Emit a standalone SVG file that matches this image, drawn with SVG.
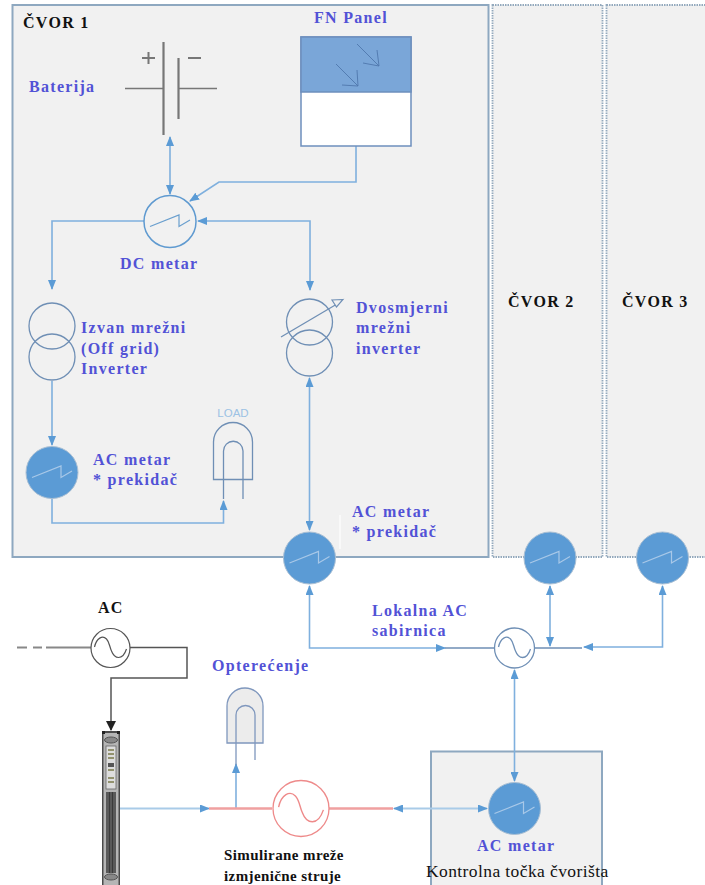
<svg xmlns="http://www.w3.org/2000/svg" width="705" height="885" viewBox="0 0 705 885">
<style>
text{font-family:"Liberation Serif","Times New Roman",serif;font-size:16px;font-weight:bold;fill:#5252d6;letter-spacing:1.3px}
.k{fill:#111}
.s{fill:#111;font-size:15px;letter-spacing:.4px}
.c{fill:none;stroke:#7fb0de;stroke-width:1.6}
.m{fill:#5b9bd5;stroke:#a9bfd4;stroke-width:1}
.z{fill:none;stroke:#a8c8e8;stroke-width:1.2}
.t{fill:none;stroke:#6f8fb5;stroke-width:1.3}
</style>
<defs>
<marker id="a" markerWidth="10" markerHeight="8" refX="9" refY="4" orient="auto-start-reverse" markerUnits="userSpaceOnUse"><path d="M0 0L10 4L0 8Z" fill="#5b9bd5"/></marker>
<marker id="b" markerWidth="10" markerHeight="10" refX="9" refY="5" orient="auto" markerUnits="userSpaceOnUse"><path d="M0 0L10 5L0 10Z" fill="#222"/></marker>
<path id="zz" d="M-20 5L9 -6.500V5L20 -1.500"/>
<path id="sine" d="M-16 -1C-14 -10 -8 -13 -4 -9C-1 -6 -1 -1 1 3C4 11 12 13 16 1"/>
</defs>

<g id="cvor1"><rect x="12.500" y="5" width="476" height="552" fill="#f1f1f1" stroke="#8ea8c0" stroke-width="2"/><text class="k" x="23" y="28">ČVOR 1</text></g>
<g id="cvor2"><rect x="492.500" y="5" width="110" height="552" fill="#f1f1f1" stroke="#93a9bd" stroke-width="1.800" stroke-dasharray="1.500 1"/><text class="k" x="508" y="307">ČVOR 2</text></g>
<g id="cvor3"><rect x="606.500" y="5" width="110" height="552" fill="#f1f1f1" stroke="#93a9bd" stroke-width="1.800" stroke-dasharray="1.500 1"/><text class="k" x="622" y="307">ČVOR 3</text></g>
<g id="kontrolna"><rect x="431" y="751.500" width="171" height="140" fill="#f1f1f1" stroke="#8ea8c0" stroke-width="2"/></g>

<g id="connectors">
<path class="c" d="M170 137V194" marker-start="url(#a)" marker-end="url(#a)"/>
<path class="c" d="M356 146V182H219L190 201" marker-end="url(#a)"/>
<path class="c" d="M144 221H52V289" marker-end="url(#a)"/>
<path class="c" d="M310 290V221H198" marker-start="url(#a)" marker-end="url(#a)"/>
<path class="c" d="M52 381V445" marker-end="url(#a)"/>
<path class="c" d="M52 498V523H223.500V501" marker-end="url(#a)"/>
<path class="c" d="M309.500 378V530" marker-start="url(#a)" marker-end="url(#a)"/>
<path class="c" d="M309.500 586V648H445" marker-start="url(#a)" marker-end="url(#a)"/>
<path d="M445 648H494M534 648H582" fill="none" stroke="#6f8fb5" stroke-width="1.500"/>
<path class="c" d="M550 586V646" marker-start="url(#a)" marker-end="url(#a)"/>
<path class="c" d="M662.500 586V647H584" marker-start="url(#a)" marker-end="url(#a)"/>
<path class="c" d="M514.500 670V781" marker-start="url(#a)" marker-end="url(#a)"/>
<path class="c" d="M394 808.500H487" marker-start="url(#a)" marker-end="url(#a)" style="stroke:#a9cbe8;stroke-width:2"/>
<path class="c" d="M120 808.500H209" marker-end="url(#a)" style="stroke:#a9cbe8;stroke-width:2"/>
<path class="c" d="M236 808V764" marker-end="url(#a)"/>
<path d="M209 808.500H272M329 808.500H393" fill="none" stroke="#f0a0a0" stroke-width="2.500"/>
<path d="M17 647.500H27M33 647.500H42M46 647.500H91" fill="none" stroke="#888" stroke-width="1.800"/>
<path d="M130 647.500H187V678H111V730" fill="none" stroke="#555" stroke-width="1.500" marker-end="url(#b)"/>
</g>

<g id="baterija">
<path d="M125 88.500H163M179 88.500H217" stroke="#777" stroke-width="1.500" fill="none"/>
<path d="M163.500 42V135M178.500 58V119" stroke="#777" stroke-width="2.200" fill="none"/>
<path d="M142 58H155M148.500 52V64M188 58H201" stroke="#777" stroke-width="2" fill="none"/>
<text x="29" y="92">Baterija</text>
</g>

<g id="fn-panel">
<rect x="301" y="37" width="110" height="109" fill="#fff" stroke="#6d8fbd" stroke-width="1.500"/>
<rect x="301" y="37" width="110" height="55" fill="#7aa6d8" stroke="#6d8fbd" stroke-width="1.500"/>
<path d="M357 44L379 66M377 50L379 66L363 63M336 64L358 86M357 70L358 86L342 85" fill="none" stroke="#4f77ad" stroke-width=".9"/>
<text x="314" y="23">FN Panel</text>
</g>

<g id="dc-metar"><circle cx="170" cy="221.500" r="26" fill="#f1f1f1" stroke="#5f9ad0" stroke-width="1.500"/><use href="#zz" transform="translate(170 221.500)" fill="none" stroke="#6a9fce" stroke-width="1.200"/><text x="120" y="269">DC metar</text></g>

<g id="offgrid-inverter"><circle class="t" cx="52" cy="326" r="23"/><circle class="t" cx="52" cy="357" r="23"/><text x="81" y="333">Izvan mrežni</text><text x="81" y="354">(Off grid)</text><text x="81" y="374">Inverter</text></g>

<g id="dvosmjerni-inverter"><circle class="t" cx="309.500" cy="322" r="23"/><circle class="t" cx="309.500" cy="353" r="23"/><path class="t" d="M281 337L337 304"/><path d="M343 299.500L332 300L336.500 307Z" fill="#f1f1f1" stroke="#6f8fb5" stroke-width="1.200"/><text x="356" y="313">Dvosmjerni</text><text x="356" y="333">mrežni</text><text x="356" y="354">inverter</text></g>

<g id="ac-metar-1"><circle class="m" cx="52" cy="472.500" r="26"/><use class="z" href="#zz" transform="translate(52 472.500)"/><text x="93" y="465">AC metar</text><text x="93" y="485">* prekidač</text></g>

<g id="load"><path d="M213.500 479.500V442A19.500 19.500 0 0 1 252.500 442V479.500Z" fill="none" stroke="#6f8fb5" stroke-width="1.300"/><path d="M223.500 499V451A9.750 9.750 0 0 1 243 451V499" fill="none" stroke="#6f8fb5" stroke-width="1.300"/><text x="233" y="417" text-anchor="middle" style="font:11.500px 'Liberation Sans',sans-serif;fill:#9cc2e4;letter-spacing:0">LOAD</text></g>

<g id="ac-metar-2"><path d="M340 515V549" stroke="#fff" stroke-width="1.200"/><circle class="m" cx="309.500" cy="558" r="26"/><use class="z" href="#zz" transform="translate(309.500 558)"/><text x="352" y="517">AC metar</text><text x="352" y="537">* prekidač</text></g>
<g id="ac-metar-3"><circle class="m" cx="550" cy="558" r="26"/><use class="z" href="#zz" transform="translate(550 558)"/></g>
<g id="ac-metar-4"><circle class="m" cx="662.500" cy="558" r="26"/><use class="z" href="#zz" transform="translate(662.500 558)"/></g>

<g id="ac-sabirnica"><circle cx="514.500" cy="648" r="20" fill="#fff" stroke="#6f8fb5" stroke-width="1.300"/><use href="#sine" transform="translate(514.500 648)" fill="none" stroke="#6f8fb5" stroke-width="1.300"/><text x="372" y="616">Lokalna AC</text><text x="372" y="636">sabirnica</text></g>

<g id="ac-metar-5"><circle class="m" cx="514.500" cy="808.500" r="26"/><use class="z" href="#zz" transform="translate(514.500 808.500)"/><text x="477" y="851">AC metar</text><text x="426" y="877" style="font-size:17.500px;font-weight:normal;fill:#111;letter-spacing:.4px">Kontrolna točka čvorišta</text></g>

<g id="ac-izvor"><circle cx="110.500" cy="648" r="19.500" fill="#fff" stroke="#555" stroke-width="1.200"/><use href="#sine" transform="translate(110.500 648)" fill="none" stroke="#555" stroke-width="1.200"/><text class="k" x="98" y="613">AC</text></g>

<g id="rack">
<rect x="102" y="731" width="18" height="154" fill="#4a4a4a"/>
<rect x="103.500" y="733" width="15" height="152" fill="#b5b5b5"/>
<ellipse cx="111" cy="740" rx="6.500" ry="3" fill="#888" stroke="#555"/>
<rect x="106" y="746" width="10" height="43" fill="#ddd" stroke="#666" stroke-width=".8"/>
<path d="M108 750H114M108 754H114M108 758H114M108 770H114M108 778H114M108 782H114" stroke="#7a7a4a" stroke-width="1.500"/>
<rect x="108" y="763" width="6" height="4" fill="#555"/>
<rect x="106" y="792" width="10" height="81" fill="#5a5a5a"/>
<path d="M109.500 792V873M112.500 792V873" stroke="#333" stroke-width=".8"/>
<ellipse cx="111" cy="877" rx="6.500" ry="3" fill="#888" stroke="#555"/>
<rect x="102" y="731" width="3" height="3" fill="#222"/><rect x="117" y="731" width="3" height="3" fill="#222"/>
</g>

<g id="opterecenje"><path d="M227 743V706A18 18 0 0 1 263 706V743Z" fill="#ececec" stroke="#7f97bd" stroke-width="1.300"/><path d="M236 765V715A9.500 9.500 0 0 1 255 715V760" fill="none" stroke="#7f97bd" stroke-width="1.300"/><text x="212" y="671">Opterećenje</text></g>

<g id="simulirana-mreza"><circle cx="301" cy="808.500" r="28" fill="#fff" stroke="#ee8a8a" stroke-width="1.300"/><use href="#sine" transform="translate(301 808.500) scale(1.400)" fill="none" stroke="#ee8a8a" stroke-width="1"/><text class="s" x="224" y="860">Simulirane mreže</text><text class="s" x="224" y="881">izmjenične struje</text></g>
</svg>
